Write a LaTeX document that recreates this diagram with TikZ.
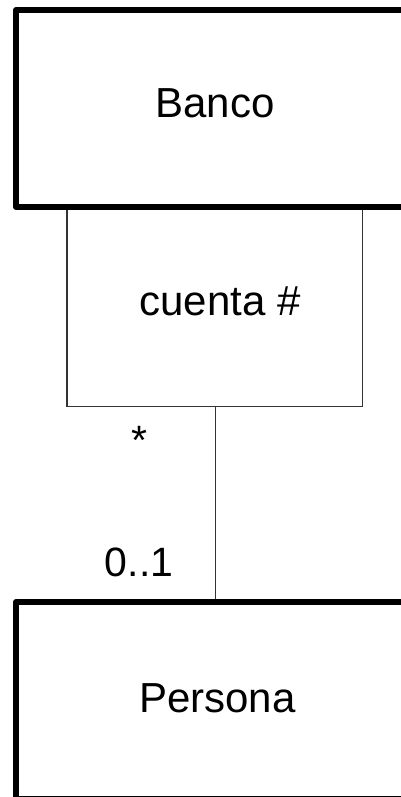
\documentclass[tikz,border=0pt]{standalone}
\usepackage{fontspec}
\setmainfont{Liberation Sans}
\begin{document}
\begin{tikzpicture}[x=1pt,y=1pt,
  classbox/.style={draw=black,line width=6pt,line join=round,rectangle,inner sep=0pt},
  qualbox/.style={draw=black!80,line width=1.3pt,rectangle,inner sep=0pt},
  assoc/.style={draw=black!80,line width=1.3pt},
  bigtxt/.style={font=\fontsize{42}{48}\selectfont,inner sep=0pt,anchor=base},
  multtxt/.style={font=\fontsize{41}{48}\selectfont,inner sep=0pt,anchor=base}]
\useasboundingbox (0,0) rectangle (401,797);
\clip (0,0) rectangle (401,797);
\fill[white] (0,0) rectangle (401,797);
% qualifier box
\node[qualbox,minimum width=295.5pt,minimum height=199.5pt] (qual) at (214.75,490.25) {};
% persona box
\node[classbox,minimum width=394pt,minimum height=197pt] (persona) at (213,96.5) {};
% association
\coordinate (a1) at (215.7,390.5);
\draw[assoc] (a1) -- (a1 |- persona.north);
% banco box
\node[classbox,minimum width=394pt,minimum height=197pt] (banco) at (213,688.5) {};
% texts
\node[bigtxt] (bancotxt) at (215,679.3) {Banco};
\node[bigtxt] (cuentatxt) at (220,481.3) {cuenta \#};
\node[bigtxt] (personatxt) at (217.5,84) {Persona};
\node[multtxt] (star) at (139,342) {*};
\node[multtxt] (mult) at (139,220.3) {0..1};
\end{tikzpicture}
\end{document}
